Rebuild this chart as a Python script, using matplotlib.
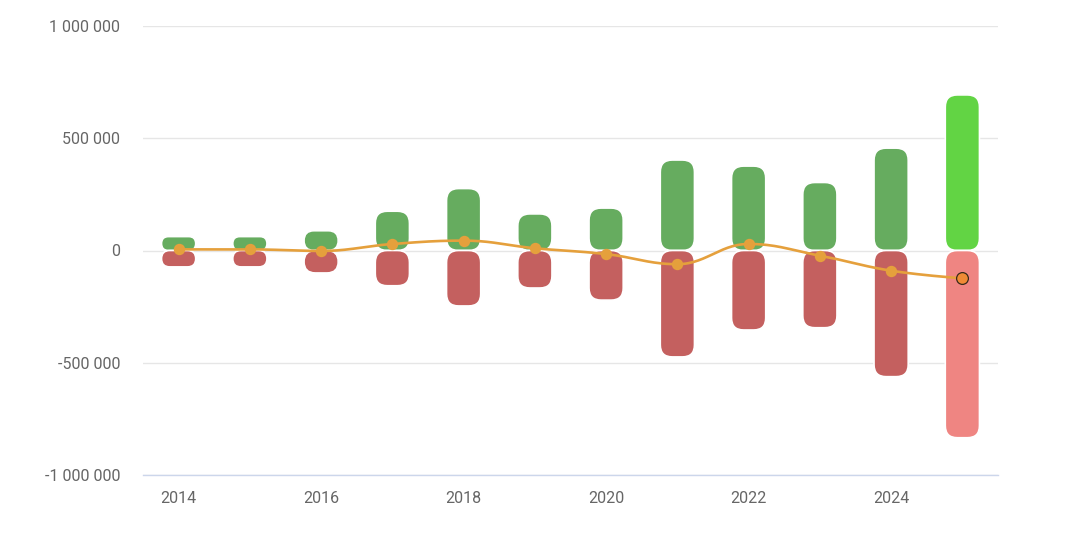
import numpy as np
import matplotlib.pyplot as plt
from matplotlib.patches import FancyBboxPatch
from matplotlib.ticker import FuncFormatter

plt.rcParams['font.family'] = ['Roboto', 'DejaVu Sans']

years = [2014, 2015, 2016, 2017, 2018, 2019, 2020, 2021, 2022, 2023, 2024, 2025]
inflow = [62000, 62000, 88000, 175000, 276000, 163000, 189000, 403000, 376000, 303000, 456000, 693000]
outflow = [-73000, -73000, -100000, -157000, -247000, -167000, -221000, -474000, -354000, -344000, -562000, -834000]
balance = [5000, 5000, -2000, 29000, 44000, 10000, -16000, -61000, 29000, -23000, -90000, -124000]

GREEN = '#66ac5f'
RED = '#c4605f'
GREEN_LAST = '#62d444'
RED_LAST = '#ef8582'
ORANGE = '#e5a03c'


def spline_path(xs, ys, smoothing=1.5, steps=30):
    """
    Smooth curve through the points, the way Highcharts builds a spline
    """
    n = len(xs)
    denom = smoothing + 1
    lc = [(xs[i], ys[i]) for i in range(n)]
    rc = [(xs[i], ys[i]) for i in range(n)]
    for i in range(1, n - 1):
        x, y = xs[i], ys[i]
        lx, ly = xs[i - 1], ys[i - 1]
        nx, ny = xs[i + 1], ys[i + 1]
        lcx = (smoothing * x + lx) / denom
        lcy = (smoothing * y + ly) / denom
        rcx = (smoothing * x + nx) / denom
        rcy = (smoothing * y + ny) / denom
        if rcx != lcx:
            corr = (rcy - lcy) * (rcx - x) / (rcx - lcx) + y - rcy
            lcy += corr
            rcy += corr
        if lcy > max(ly, y):
            lcy = max(ly, y)
            rcy = 2 * y - lcy
        elif lcy < min(ly, y):
            lcy = min(ly, y)
            rcy = 2 * y - lcy
        if rcy > max(y, ny):
            rcy = max(y, ny)
            lcy = 2 * y - rcy
        elif rcy < min(y, ny):
            rcy = min(y, ny)
            lcy = 2 * y - rcy
        lc[i] = (lcx, lcy)
        rc[i] = (rcx, rcy)
    t = np.linspace(0, 1, steps)[:, None]
    pts = []
    for i in range(1, n):
        p0 = np.array([xs[i - 1], ys[i - 1]])
        p1 = np.array(rc[i - 1])
        p2 = np.array(lc[i])
        p3 = np.array([xs[i], ys[i]])
        seg = ((1 - t) ** 3) * p0 + 3 * ((1 - t) ** 2) * t * p1 + 3 * (1 - t) * t ** 2 * p2 + t ** 3 * p3
        pts.append(seg if i == 1 else seg[1:])
    pts = np.vstack(pts)
    return pts[:, 0], pts[:, 1]


fig = plt.figure(figsize=(10.8, 5.36), dpi=100)
ax = fig.add_axes([143 / 1080, 61 / 536, 855 / 1080, 449 / 536])

x = np.arange(len(years))
ax.set_xlim(-0.5, len(years) - 0.5)
ax.set_ylim(-1000000, 1000000)

width = 0.48
# corner rounding in pixels, converted to data units on both axes
# (matplotlib's round corners are quadratic, so a bigger size looks like a ~7 px arc)
px_x = len(years) / 855.0
px_y = 2000000 / 449.0
aspect = px_y / px_x
rad = 12 * px_x

for i in range(len(years)):
    last = i == len(years) - 1
    for val, col in ((inflow[i], GREEN_LAST if last else GREEN), (outflow[i], RED_LAST if last else RED)):
        y0 = min(0, val)
        h = abs(val)
        p = FancyBboxPatch((x[i] - width / 2, y0), width, h,
                           boxstyle='round,pad=0,rounding_size=%f' % min(rad, h / aspect / 2),
                           mutation_aspect=aspect,
                           facecolor=col, edgecolor='white', linewidth=1.2, zorder=3)
        ax.add_patch(p)

sx, sy = spline_path(list(x.astype(float)), balance)
ax.plot(sx, sy, color=ORANGE, linewidth=1.9, zorder=4, solid_capstyle='round')
ax.plot(x[:-1], balance[:-1], 'o', color=ORANGE, markersize=8.2, zorder=5, markeredgewidth=0)
ax.plot(x[-1:], balance[-1:], 'o', color='#f08a35', markersize=8.5, zorder=5,
        markeredgecolor='#3a2a1a', markeredgewidth=0.9)

ax.set_yticks([-1000000, -500000, 0, 500000, 1000000])
ax.yaxis.set_major_formatter(FuncFormatter(lambda v, p: '{:,.0f}'.format(v).replace(',', ' ')))
ax.set_xticks(x[::2])
ax.set_xticklabels([str(y) for y in years[::2]])
ax.grid(axis='y', color='#e6e6e6', linewidth=1, zorder=0)
ax.set_axisbelow(True)
for side in ('top', 'right', 'left'):
    ax.spines[side].set_visible(False)
ax.spines['bottom'].set_color('#ccd6eb')
ax.spines['bottom'].set_linewidth(1)
ax.spines['bottom'].set_zorder(1)
ax.tick_params(axis='y', length=0, pad=16.5, labelsize=11.5, labelcolor='#666666')
ax.tick_params(axis='x', length=0, pad=11.5, labelsize=11.5, labelcolor='#666666')

fig.savefig('out.png', dpi=100)
